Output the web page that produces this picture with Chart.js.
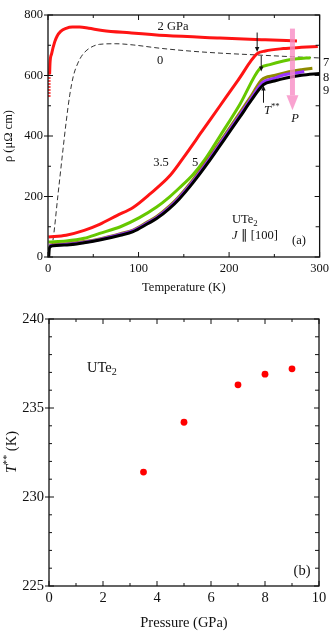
<!DOCTYPE html>
<html>
<head>
<meta charset="utf-8">
<script src="https://cdn.jsdelivr.net/npm/chart.js@4/dist/chart.umd.min.js"></script>
<style>
  body { margin: 0; background: #fff; }
  #wrap { position: relative; width: 333px; height: 635px; }
  canvas { position: absolute; left: 0; }
  #rhoChart { top: 0; }
  #tssChart { top: 305px; }
</style>
</head>
<body>
<div id="wrap">
  <canvas id="rhoChart" width="333" height="305" style="width:333px;height:305px"></canvas>
  <canvas id="tssChart" width="333" height="330" style="width:333px;height:330px"></canvas>
</div>
<script>
// Resistivity curves of UTe2 under pressure (panel a)
const t0 = [3.5, 5.5, 11, 16.5, 20, 24, 28, 33, 38, 43, 50, 57, 75, 94, 124, 160, 190, 230, 270, 300];
const rho0 = [30, 56, 205, 354, 445, 535, 598, 641, 668, 684, 697, 703, 705, 701, 690, 680, 674, 668, 662, 658];

const t2 = [1.8, 2.2, 4, 7.5, 10, 14, 20, 27, 35, 45, 60, 90, 130, 190, 240, 275];
const rho2 = [605, 640, 672, 712, 730, 746, 756, 760, 760, 756, 749, 741, 732, 724, 718, 714];
const t2stub = [1.2, 1.2];
const rho2stub = [530, 612];

const t35 = [0.5, 20, 40, 57, 76, 94, 112, 135, 150, 170, 190, 210, 231, 240, 260, 280, 298];
const rho35 = [66, 72, 88, 108, 137, 164, 207, 270, 330, 415, 500, 585, 672, 681, 689, 693, 696];

const t5 = [0.5, 20, 40, 57, 80, 101, 120, 134, 145, 160, 173, 190, 212, 234, 245, 260, 275, 290];
const rho5 = [50, 53, 62, 78, 100, 130, 165, 198, 228, 272, 321, 400, 505, 623, 636, 648, 655, 659];

const t7 = [1.5, 21, 40, 57, 80, 94, 110, 120, 134, 145, 160, 179, 195, 212, 225, 236, 250, 263, 280, 292];
const rho7 = [40, 44, 51, 60, 77, 89, 116, 134, 168, 201, 255, 333, 402, 477, 535, 586, 600, 610, 619, 624];

const t8 = [1.5, 21, 40, 57, 80, 94, 110, 120, 134, 145, 160, 179, 195, 212, 225, 237, 250, 259, 270, 283];
const rho8 = [38, 42, 49, 58, 75, 87, 113, 131, 164, 197, 250, 327, 396, 470, 527, 577, 591, 601, 607, 613];

const t9 = [0.8, 1.5, 3, 21, 40, 57, 80, 94, 110, 120, 134, 145, 160, 179, 195, 212, 225, 238, 250, 263, 280, 300];
const rho9 = [0, 28, 36, 40, 47, 56, 72, 84, 110, 127, 160, 192, 245, 321, 390, 463, 520, 570, 582, 592, 601, 607];

// T** vs pressure (panel b)
const pressures = [3.5, 5, 7, 8, 9];
const tStarStar = [231.4, 234.2, 236.3, 236.9, 237.2];

// Axis ticks
const tempMajor = [0, 100, 200, 300];
const tempMinor = [50, 150, 250];
const rhoMajor = [0, 200, 400, 600, 800];
const rhoMinor = [100, 300, 500, 700];
const pMajor = [0, 2, 4, 6, 8, 10];
const pMinor = [1, 3, 5, 7, 9];
const tssMajor = [225, 230, 235, 240];
const tssMinor = [226, 227, 228, 229, 231, 232, 233, 234, 236, 237, 238, 239];

const SERIF = '"Liberation Serif", "Times New Roman", serif';
const RED = '#ff1414';

function curve(ts, rs, color, width, dash) {
    return {
        data: ts.map((t, i) => ({ x: t, y: rs[i] })),
        borderColor: color,
        borderWidth: width,
        borderDash: dash || [],
        showLine: true,
        pointRadius: 0,
        fill: false,
        cubicInterpolationMode: 'monotone'
    };
}

// Text with italic / superscript / subscript parts
function drawRich(ctx, parts, x, y, size, align) {
    const fontFor = p => (p.i ? 'italic ' : '') + ((p.sup || p.sub) ? size * 0.7 : size) + 'px ' + SERIF;
    let w = 0;
    parts.forEach(p => { ctx.font = fontFor(p); w += ctx.measureText(p.t).width; });
    let cx = align === 'center' ? x - w / 2 : (align === 'right' ? x - w : x);
    ctx.textAlign = 'left';
    ctx.textBaseline = 'middle';
    parts.forEach(p => {
        ctx.font = fontFor(p);
        const dy = p.sup ? -size * 0.35 : (p.sub ? size * 0.3 : 0);
        ctx.fillText(p.t, cx, y + dy);
        cx += ctx.measureText(p.t).width;
    });
}

function drawRotated(ctx, parts, x, y, size) {
    ctx.save();
    ctx.translate(x, y);
    ctx.rotate(-Math.PI / 2);
    drawRich(ctx, parts, 0, 0, size, 'center');
    ctx.restore();
}

// Frame round the plot area with inward ticks on all four sides
function framePlugin(ticks) {
    return {
        id: 'frame',
        afterDraw(chart) {
            const { ctx, chartArea: a, scales: { x, y } } = chart;
            ctx.save();
            ctx.strokeStyle = '#111';
            ctx.lineWidth = 1.3;
            ctx.strokeRect(a.left, a.top, a.right - a.left, a.bottom - a.top);
            ctx.lineWidth = 1;
            ctx.beginPath();
            ticks.xMajor.forEach(v => {
                const px = x.getPixelForValue(v);
                ctx.moveTo(px, a.bottom); ctx.lineTo(px, a.bottom - 5);
                ctx.moveTo(px, a.top); ctx.lineTo(px, a.top + 5);
            });
            ticks.xMinor.forEach(v => {
                const px = x.getPixelForValue(v);
                ctx.moveTo(px, a.bottom); ctx.lineTo(px, a.bottom - 3);
                ctx.moveTo(px, a.top); ctx.lineTo(px, a.top + 3);
            });
            ticks.yMajor.forEach(v => {
                const py = y.getPixelForValue(v);
                ctx.moveTo(a.left - 4, py); ctx.lineTo(a.left + 5, py);
                ctx.moveTo(a.right, py); ctx.lineTo(a.right - 5, py);
            });
            ticks.yMinor.forEach(v => {
                const py = y.getPixelForValue(v);
                ctx.moveTo(a.left, py); ctx.lineTo(a.left + 3, py);
                ctx.moveTo(a.right, py); ctx.lineTo(a.right - 4, py);
            });
            ctx.stroke();
            ctx.restore();
        }
    };
}

function smallArrow(ctx, x, yFrom, yTo) {
    const dir = yTo > yFrom ? 1 : -1;
    ctx.beginPath();
    ctx.moveTo(x, yFrom);
    ctx.lineTo(x, yTo - dir * 4);
    ctx.stroke();
    ctx.beginPath();
    ctx.moveTo(x - 2.2, yTo - dir * 5);
    ctx.lineTo(x + 2.2, yTo - dir * 5);
    ctx.lineTo(x, yTo);
    ctx.closePath();
    ctx.fill();
}

const rhoNotes = {
    id: 'rhoNotes',
    afterDatasetsDraw(chart) {
        const { ctx, scales: { x, y } } = chart;
        const X = v => x.getPixelForValue(v);
        const Y = v => y.getPixelForValue(v);
        ctx.save();
        // pink pressure arrow
        ctx.fillStyle = 'rgba(247,140,196,0.8)';
        const px = X(270), yTop = Y(755), yTip = Y(485);
        ctx.fillRect(px - 2.5, yTop, 5, yTip - 15 - yTop);
        ctx.beginPath();
        ctx.moveTo(px - 6, yTip - 15);
        ctx.lineTo(px + 6, yTip - 15);
        ctx.lineTo(px, yTip);
        ctx.closePath();
        ctx.fill();
        // T** arrows
        ctx.strokeStyle = '#111';
        ctx.fillStyle = '#111';
        ctx.lineWidth = 1;
        smallArrow(ctx, X(231), Y(742), Y(678));
        smallArrow(ctx, X(235.5), Y(665), Y(613));
        smallArrow(ctx, X(238), Y(510), Y(567));
        // labels
        const s = 12.5;
        ctx.fillStyle = '#111';
        drawRich(ctx, [{ t: '2 GPa' }], 173, 27, s, 'center');
        drawRich(ctx, [{ t: '0' }], 160, 61, s, 'center');
        drawRich(ctx, [{ t: '3.5' }], 161, 163, s, 'center');
        drawRich(ctx, [{ t: '5' }], 195, 163, s, 'center');
        drawRich(ctx, [{ t: '7' }], 323, 63, s, 'left');
        drawRich(ctx, [{ t: '8' }], 323, 78, s, 'left');
        drawRich(ctx, [{ t: '9' }], 323, 91, s, 'left');
        drawRich(ctx, [{ t: 'T', i: true }, { t: '**', sup: true }], 264, 111, s, 'left');
        drawRich(ctx, [{ t: 'P', i: true }], 295, 119, s, 'center');
        drawRich(ctx, [{ t: 'UTe' }, { t: '2', sub: true }], 232, 220, s, 'left');
        drawRich(ctx, [{ t: 'J', i: true }, { t: ' \u2225 [100]' }], 232, 236, s, 'left');
        drawRich(ctx, [{ t: '(a)' }], 299, 241, s, 'center');
        drawRotated(ctx, [{ t: '\u03c1 (\u03bc\u03a9 cm)' }], 9, 136, s);
        ctx.restore();
    }
};

const tssNotes = {
    id: 'tssNotes',
    afterDraw(chart) {
        const { ctx } = chart;
        const s = 14.5;
        ctx.save();
        ctx.fillStyle = '#111';
        drawRich(ctx, [{ t: 'UTe' }, { t: '2', sub: true }], 87, 63, s, 'left');
        drawRich(ctx, [{ t: '(b)' }], 302, 266, s, 'center');
        drawRotated(ctx, [{ t: 'T', i: true }, { t: '**', sup: true }, { t: ' (K)' }], 12, 147, s);
        ctx.restore();
    }
};

function axisFont(size) {
    return { family: SERIF, size: size };
}

new Chart(document.getElementById('rhoChart'), {
    type: 'scatter',
    data: {
        datasets: [
            curve(t9, rho9, '#000000', 3),
            curve(t8, rho8, '#9933ff', 3),
            curve(t7, rho7, '#8f8a00', 3),
            curve(t5, rho5, '#66c800', 3),
            curve(t35, rho35, RED, 3),
            curve(t0, rho0, '#333333', 1, [5, 3]),
            curve(t2, rho2, RED, 3),
            Object.assign(curve(t2stub, rho2stub, RED, 3, [1.5, 1.5]), { cubicInterpolationMode: 'default', tension: 0 })
        ]
    },
    options: {
        responsive: false,
        animation: false,
        layout: { padding: { top: 15, right: 13, left: 0, bottom: 0 } },
        plugins: { legend: { display: false }, tooltip: { enabled: false } },
        scales: {
            x: {
                type: 'linear', min: 0, max: 300,
                grid: { display: false, drawTicks: false },
                border: { display: false },
                ticks: { stepSize: 100, padding: 4, color: '#111', font: axisFont(12.5), maxRotation: 0 },
                title: { display: true, text: 'Temperature (K)', color: '#111', font: axisFont(12.5), padding: { top: 0, bottom: 10 } },
                afterFit: s => { s.height = 48; }
            },
            y: {
                min: 0, max: 800,
                grid: { display: false, drawTicks: false },
                border: { display: false },
                ticks: { stepSize: 200, padding: 5, color: '#111', font: axisFont(12.5) },
                afterFit: s => { s.width = 48; }
            }
        }
    },
    plugins: [framePlugin({ xMajor: tempMajor, xMinor: tempMinor, yMajor: rhoMajor, yMinor: rhoMinor }), rhoNotes]
});

new Chart(document.getElementById('tssChart'), {
    type: 'scatter',
    data: {
        datasets: [{
            data: pressures.map((p, i) => ({ x: p, y: tStarStar[i] })),
            backgroundColor: '#ff0000',
            borderWidth: 0,
            pointRadius: 3.4
        }]
    },
    options: {
        responsive: false,
        animation: false,
        layout: { padding: { top: 14, right: 14, left: 0, bottom: 0 } },
        plugins: { legend: { display: false }, tooltip: { enabled: false } },
        scales: {
            x: {
                type: 'linear', min: 0, max: 10,
                grid: { display: false, drawTicks: false },
                border: { display: false },
                ticks: { stepSize: 2, padding: 3, color: '#111', font: axisFont(14.5), maxRotation: 0 },
                title: { display: true, text: 'Pressure (GPa)', color: '#111', font: axisFont(14.5), padding: { top: 0, bottom: 3 } },
                afterFit: s => { s.height = 49; }
            },
            y: {
                min: 225, max: 240,
                grid: { display: false, drawTicks: false },
                border: { display: false },
                ticks: { stepSize: 5, padding: 5, color: '#111', font: axisFont(14.5) },
                afterFit: s => { s.width = 49; }
            }
        }
    },
    plugins: [framePlugin({ xMajor: pMajor, xMinor: pMinor, yMajor: tssMajor, yMinor: tssMinor }), tssNotes]
});
</script>
</body>
</html>
